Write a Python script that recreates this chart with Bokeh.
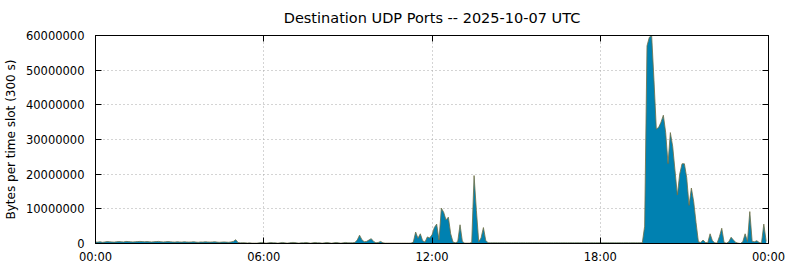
from bokeh.plotting import figure
from bokeh.embed import file_html
from bokeh.resources import INLINE
from bokeh.models import (ColumnDataSource, FixedTicker, LinearAxis, Range1d,
                          BasicTickFormatter, Title)

# Bytes per 5-minute slot (288 slots, 00:00 .. 23:55)
bytes_per_slot = [
    4.5e5, 4.0e5, 5.0e5, 3.5e5, 4.5e5, 5.5e5, 5.0e5, 4.5e5, 4.0e5, 5.0e5,
    5.5e5, 5.0e5, 4.5e5, 6.0e5, 5.5e5, 5.0e5, 4.5e5, 5.0e5, 5.5e5, 6.0e5,
    5.5e5, 5.0e5, 5.5e5, 5.0e5, 4.5e5, 5.0e5, 5.5e5, 6.0e5, 5.0e5, 4.5e5,
    5.0e5, 5.5e5, 5.0e5, 4.5e5, 4.0e5, 5.0e5, 4.5e5, 4.0e5, 5.0e5, 4.5e5,
    4.0e5, 4.5e5, 5.0e5, 4.0e5, 3.5e5, 4.5e5, 4.0e5, 5.0e5, 4.5e5, 4.0e5,
    4.5e5, 5.0e5, 4.0e5, 3.5e5, 4.0e5, 4.5e5, 4.0e5, 3.5e5, 4.5e5, 6.0e5,
    1.1e6, 3.0e5, 2.0e5, 2.5e5, 2.0e5, 1.5e5, 2.0e5, 1.0e5, 1.0e5, 1.0e5,
    2.0e5, 3.0e5, 2.0e5, 1.0e5, 2.0e5, 3.0e5, 2.0e5, 2.0e5, 1.0e5, 2.0e5,
    3.0e5, 2.0e5, 1.0e5, 2.0e5, 3.0e5, 3.0e5, 2.0e5, 1.0e5, 2.0e5, 2.0e5,
    3.0e5, 2.0e5, 1.0e5, 2.0e5, 3.0e5, 2.0e5, 2.0e5, 1.0e5, 2.0e5, 3.0e5,
    2.0e5, 1.0e5, 2.0e5, 3.0e5, 2.0e5, 1.0e5, 2.0e5, 3.0e5, 2.0e5, 2.0e5,
    2.0e5, 3.0e5, 1.0e6, 2.4e6, 1.1e6, 5.0e5, 6.0e5, 1.0e6, 1.4e6, 6.0e5,
    2.0e5, 3.0e5, 6.0e5, 2.0e5, 1.0e5, 1.0e5, 1.0e5, 1.0e5, 1.0e5, 1.0e5,
    1.0e5, 1.0e5, 1.0e5, 1.0e5, 1.0e5, 1.0e5, 4.0e5, 3.3e6, 1.5e6, 2.8e6,
    8.0e5, 4.0e5, 1.9e6, 1.6e6, 2.5e6, 4.6e6, 5.6e6, 1.0e6, 1.02e7, 9.0e6,
    6.8e6, 7.6e6, 2.8e6, 4.0e5, 2.0e5, 5.0e5, 5.4e6, 6.0e5, 1.0e5, 1.0e5,
    1.0e5, 3.0e5, 1.96e7, 9.5e6, 5.0e5, 1.6e6, 4.6e6, 9.0e5, 2.0e5, 2.0e5,
    2.0e5, 2.0e5, 2.0e5, 2.0e5, 2.0e5, 2.0e5, 2.0e5, 2.0e5, 2.0e5, 2.0e5,
    2.0e5, 2.0e5, 2.0e5, 2.0e5, 2.0e5, 2.0e5, 2.0e5, 2.0e5, 2.0e5, 2.0e5,
    2.0e5, 2.0e5, 2.0e5, 2.0e5, 2.0e5, 2.0e5, 2.0e5, 2.0e5, 2.0e5, 2.0e5,
    2.0e5, 2.0e5, 2.0e5, 2.0e5, 2.0e5, 2.0e5, 2.0e5, 2.0e5, 2.0e5, 2.0e5,
    2.0e5, 2.0e5, 2.0e5, 2.0e5, 2.0e5, 2.0e5, 2.0e5, 2.0e5, 2.0e5, 2.0e5,
    2.0e5, 2.0e5, 2.0e5, 2.0e5, 2.0e5, 2.0e5, 2.0e5, 2.0e5, 2.0e5, 2.0e5,
    2.0e5, 2.0e5, 2.0e5, 2.0e5, 2.0e5, 5.0e6, 5.7e7, 5.95e7, 6.0e7, 4.7e7,
    3.3e7, 3.35e7, 3.5e7, 3.7e7, 3.2e7, 2.3e7, 3.2e7, 2.8e7, 2.1e7, 1.4e7,
    2.0e7, 2.3e7, 2.3e7, 1.9e7, 1.1e7, 1.6e7, 1.2e7, 6.0e6, 5.0e5, 3.0e5,
    1.0e6, 3.0e5, 2.0e5, 2.8e6, 8.0e5, 2.0e5, 1.0e5, 2.0e6, 4.4e6, 3.0e5,
    1.0e5, 5.0e5, 1.8e6, 1.0e6, 3.0e5, 1.0e5, 0.0e0, 5.0e5, 2.8e6, 6.0e5,
    9.2e6, 6.0e5, 5.0e5, 8.0e5, 3.0e5, 1.0e5, 5.6e6, 6.0e5,
]

# 5-minute slot start times, in hours of the day
slot_hours = [i * 5 / 60 for i in range(len(bytes_per_slot))]

tick_hours = [0, 6, 12, 18, 24]
tick_labels = ["00:00", "06:00", "12:00", "18:00", "00:00"]
y_ticks = [0, 10000000, 20000000, 30000000, 40000000, 50000000, 60000000]
title_text = "Destination UDP Ports -- 2025-10-07 UTC"

source = ColumnDataSource(data=dict(x=slot_hours, y=bytes_per_slot))

FONT = "DejaVu Sans"

p = figure(width=790, height=267, output_backend="svg", toolbar_location=None,
           x_range=Range1d(0, 24), y_range=Range1d(0, 60000000),
           min_border_left=95, min_border_right=22, min_border_top=35,
           min_border_bottom=24, x_axis_location="below", title=None)

p.varea(x="x", y1=0, y2="y", source=source, fill_color="#0081b1")
p.line(x="x", y="y", source=source, line_color="#6f6f45", line_width=1, line_alpha=0.8)

p.outline_line_color = "#000000"
p.outline_line_width = 1
p.outline_line_alpha = 1
p.background_fill_color = "white"
p.border_fill_color = "white"

for g, t in ((p.xgrid, tick_hours), (p.ygrid, y_ticks)):
    g.ticker = FixedTicker(ticks=t)
    g.grid_line_color = "#a8a8a8"
    g.grid_line_dash = "1 3"
    g.grid_line_width = 1

xa = p.xaxis[0]
xa.ticker = FixedTicker(ticks=tick_hours)
xa.major_label_overrides = {t: l for t, l in zip(tick_hours, tick_labels)}
ya = p.yaxis[0]
ya.ticker = FixedTicker(ticks=y_ticks)
ya.formatter = BasicTickFormatter(use_scientific=False)
ya.axis_label = "Bytes per time slot (300 s)"

for ax in (xa, ya):
    ax.major_tick_in = 6
    ax.major_tick_out = 0
    ax.minor_tick_line_color = None
    ax.axis_line_color = "#000000"
    ax.major_tick_line_color = "#000000"
    ax.major_label_text_font = FONT
    ax.major_label_text_font_size = "11.5px"
    ax.major_label_text_color = "#000000"
    ax.axis_label_text_font = FONT
    ax.axis_label_text_font_size = "12px"
    ax.axis_label_text_font_style = "normal"
    ax.axis_label_text_color = "#000000"
    ax.axis_label_standoff = 5
xa.major_label_standoff = 6
ya.major_label_standoff = 11

ra = LinearAxis(ticker=FixedTicker(ticks=y_ticks), major_label_text_alpha=0,
                major_label_text_font_size="1px", major_label_standoff=0,
                major_tick_in=6, major_tick_out=0,
                minor_tick_line_color=None, axis_line_color="#000000")
p.add_layout(ra, "right")

ta = LinearAxis(ticker=FixedTicker(ticks=tick_hours), major_label_text_alpha=0,
                major_label_text_font_size="1px", major_label_standoff=0,
                major_tick_in=6, major_tick_out=0,
                minor_tick_line_color=None, axis_line_color="#000000")
p.add_layout(ta, "above")

t = Title(text=title_text, align="center", vertical_align="top", text_font=FONT,
          text_font_size="14.5px", text_font_style="normal", text_color="#000000",
          standoff=15, offset=0)
p.add_layout(t, "above")

open("out.html", "w").write(file_html(p, INLINE))
